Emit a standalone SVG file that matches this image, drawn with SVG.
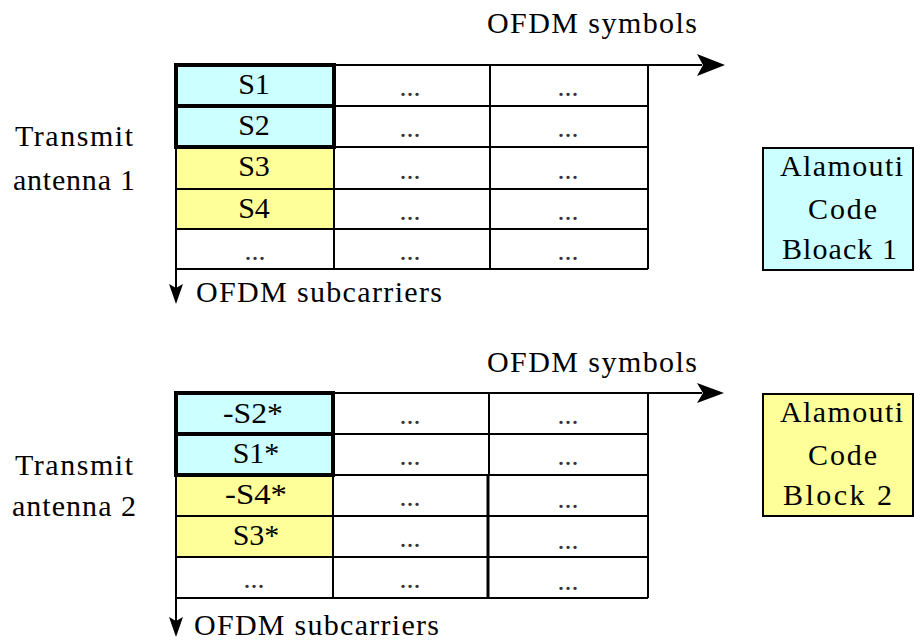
<svg xmlns="http://www.w3.org/2000/svg" width="914" height="641" viewBox="0 0 914 641">
<style>
text{font-family:Liberation Serif, Tinos, DejaVu Serif, Times New Roman, Times, serif;font-size:30px;fill:#000}
.c{text-anchor:middle}
.dots{font-size:28px;text-anchor:middle;fill:#333}
.grid{stroke:#000;stroke-width:2;fill:none}
.thick{stroke:#000;stroke-width:4;fill:none}
.cy{fill:#ccffff}
.ye{fill:#ffff99}
.box{stroke:#000;stroke-width:2}
.ah{fill:#000}
</style>

<!-- Table 1 -->
<g id="table1">
  <rect class="cy" x="176" y="65" width="158" height="82"/>
  <rect class="ye" x="176" y="147" width="158" height="82"/>
  <path class="grid" d="M176 106H648M176 147H648M176 189H648M176 229H648M176 269H648M334 65V269M490 65V269M648 65V269"/>
  <rect class="thick" x="176" y="65" width="158" height="41"/>
  <rect class="thick" x="176" y="106" width="158" height="41"/>
  <text class="c" x="254" y="94">S1</text>
  <text class="c" x="254" y="135">S2</text>
  <text class="c" x="254" y="176">S3</text>
  <text class="c" x="254" y="218">S4</text>
  <text class="dots" x="255" y="260">...</text>
  <text class="dots" x="410" y="96">...</text>
  <text class="dots" x="410" y="137">...</text>
  <text class="dots" x="410" y="179">...</text>
  <text class="dots" x="410" y="220">...</text>
  <text class="dots" x="410" y="260">...</text>
  <text class="dots" x="568" y="96">...</text>
  <text class="dots" x="568" y="137">...</text>
  <text class="dots" x="568" y="179">...</text>
  <text class="dots" x="568" y="220">...</text>
  <text class="dots" x="568" y="260">...</text>
</g>

<!-- Table 2 -->
<g id="table2">
  <rect class="cy" x="176" y="393" width="157" height="82"/>
  <rect class="ye" x="176" y="475" width="157" height="82"/>
  <path class="grid" d="M176 434H648M176 475H648M176 516H648M176 557H648M176 598H648M333 393V598M489 393V475M648 393V598"/>
  <path d="M488 475V598" stroke="#000" stroke-width="3"/>
  <rect class="thick" x="176" y="393" width="157" height="41"/>
  <rect class="thick" x="176" y="434" width="157" height="41"/>
  <text class="c" x="253" y="423" textLength="60" lengthAdjust="spacingAndGlyphs">-S2*</text>
  <text class="c" x="256" y="463">S1*</text>
  <text class="c" x="256" y="504" textLength="62" lengthAdjust="spacingAndGlyphs">-S4*</text>
  <text class="c" x="256" y="545">S3*</text>
  <text class="dots" x="254" y="588">...</text>
  <text class="dots" x="410" y="424">...</text>
  <text class="dots" x="410" y="465">...</text>
  <text class="dots" x="410" y="506">...</text>
  <text class="dots" x="410" y="547">...</text>
  <text class="dots" x="410" y="588">...</text>
  <text class="dots" x="568" y="424">...</text>
  <text class="dots" x="568" y="465">...</text>
  <text class="dots" x="568" y="508">...</text>
  <text class="dots" x="568" y="549">...</text>
  <text class="dots" x="568" y="590">...</text>
</g>

<!-- Labels -->
<g id="label-antenna1">
  <text x="15" y="146" textLength="118" lengthAdjust="spacing">Transmit</text>
  <text x="13" y="190" textLength="122" lengthAdjust="spacing">antenna 1</text>
</g>
<g id="label-antenna2">
  <text x="15" y="475" textLength="118" lengthAdjust="spacing">Transmit</text>
  <text x="12" y="516" textLength="124" lengthAdjust="spacing">antenna 2</text>
</g>
<g id="label-symbols1">
  <text x="487" y="33" textLength="210" lengthAdjust="spacing">OFDM symbols</text>
</g>
<g id="label-symbols2">
  <text x="487" y="372" textLength="210" lengthAdjust="spacing">OFDM symbols</text>
</g>
<g id="label-subcarriers1">
  <text x="196" y="302" textLength="246" lengthAdjust="spacing">OFDM subcarriers</text>
</g>
<g id="label-subcarriers2">
  <text x="194" y="635" textLength="245" lengthAdjust="spacing">OFDM subcarriers</text>
</g>

<!-- Alamouti boxes -->
<g id="block1">
  <rect class="cy box" x="763" y="148" width="150" height="122"/>
  <text x="780" y="176" textLength="123" lengthAdjust="spacing">Alamouti</text>
  <text x="808" y="219" textLength="69" lengthAdjust="spacing">Code</text>
  <text x="782" y="259" textLength="115" lengthAdjust="spacing">Bloack 1</text>
</g>
<g id="block2">
  <rect class="ye box" x="763" y="394" width="150" height="122"/>
  <text x="780" y="422" textLength="123" lengthAdjust="spacing">Alamouti</text>
  <text x="808" y="465" textLength="69" lengthAdjust="spacing">Code</text>
  <text x="783" y="505" textLength="109" lengthAdjust="spacing">Block 2</text>
</g>

<!-- Axes / connectors -->
<g id="connectors">
  <path class="grid" d="M176 65H702"/>
  <polygon class="ah" points="725,65 697,54 703,65 697,76"/>
  <path class="grid" d="M176 65V290"/>
  <polygon class="ah" points="176,304 169,284 176,288 183,284"/>
  <path class="grid" d="M176 393H702"/>
  <polygon class="ah" points="724,393 697,383 703,393 697,403"/>
  <path class="grid" d="M176 393V622"/>
  <polygon class="ah" points="176,637 169,617 176,621 183,617"/>
</g>
</svg>
